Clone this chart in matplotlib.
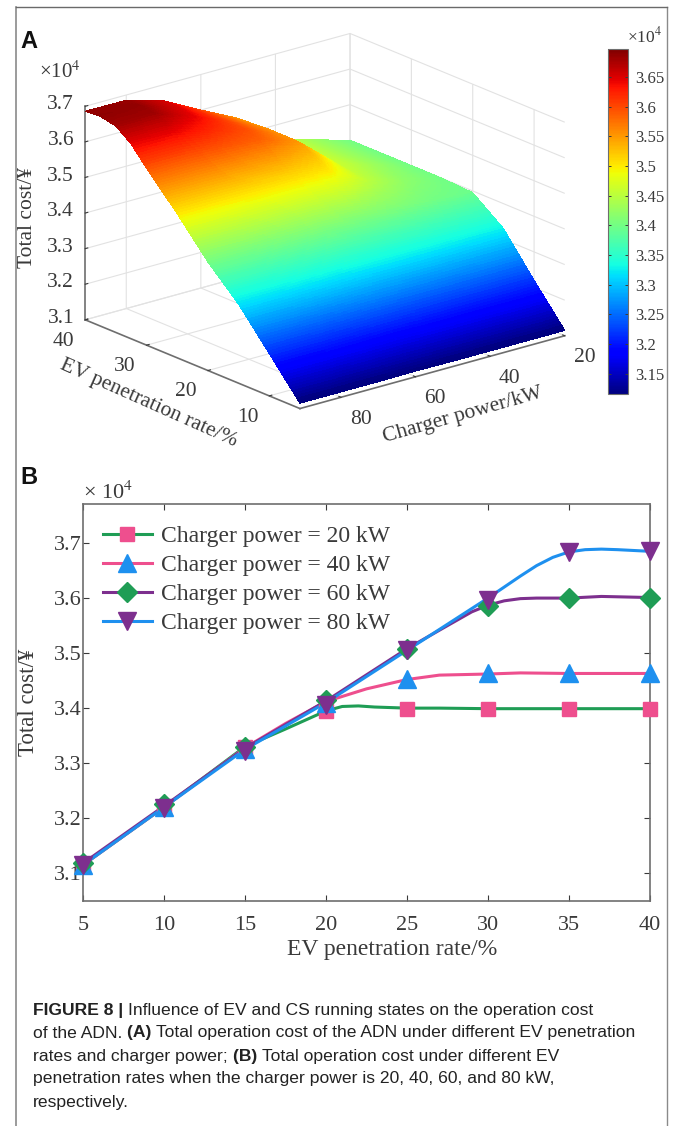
import numpy as np
import matplotlib
matplotlib.use('Agg')
import matplotlib.pyplot as plt
from matplotlib.colors import Normalize
from matplotlib.lines import Line2D
from mpl_toolkits.mplot3d import proj3d

plt.rcParams['font.family'] = ['Liberation Serif', 'DejaVu Sans']
plt.rcParams['mathtext.fontset'] = 'stix'

W, H = 675, 1126
TXT = '#3a3a3a'
AXC = '#6e6e6e'

# panel A, surface
ev_rate = [5, 10, 15, 20, 25, 30, 32.5, 35, 37.5, 40]
charger = [20, 30, 40, 50, 60, 70, 80, 91]
cost_5 = [3.115, 3.115, 3.115, 3.115, 3.116, 3.115, 3.115, 3.115]
cost_10 = [3.220, 3.220, 3.220, 3.220, 3.222, 3.220, 3.219, 3.219]
cost_15 = [3.330, 3.330, 3.328, 3.328, 3.328, 3.325, 3.322, 3.322]
cost_20 = [3.395, 3.400, 3.410, 3.412, 3.415, 3.410, 3.405, 3.405]
cost_25 = [3.400, 3.420, 3.452, 3.500, 3.505, 3.505, 3.505, 3.505]
cost_30 = [3.400, 3.430, 3.463, 3.552, 3.585, 3.592, 3.597, 3.597]
cost_32 = [3.400, 3.430, 3.463, 3.553, 3.597, 3.622, 3.645, 3.647]
cost_35 = [3.400, 3.430, 3.463, 3.553, 3.600, 3.645, 3.680, 3.680]
cost_37 = [3.400, 3.430, 3.463, 3.550, 3.600, 3.652, 3.686, 3.689]
cost_40 = [3.400, 3.430, 3.463, 3.548, 3.600, 3.655, 3.685, 3.686]
z_ticks = [3.1, 3.2, 3.3, 3.4, 3.5, 3.6, 3.7]
cbar_ticks = [3.15, 3.2, 3.25, 3.3, 3.35, 3.4, 3.45, 3.5, 3.55, 3.6, 3.65]

# panel B, values at the markers
rate_marks = [5, 10, 15, 20, 25, 30, 35, 40]
marks_20 = [3.113, 3.220, 3.330, 3.395, 3.399, 3.399, 3.399, 3.399]
marks_40 = [3.115, 3.220, 3.325, 3.410, 3.453, 3.463, 3.463, 3.463]
marks_60 = [3.118, 3.225, 3.330, 3.415, 3.508, 3.585, 3.600, 3.600]
marks_80 = [3.115, 3.218, 3.322, 3.405, 3.505, 3.597, 3.683, 3.685]

# panel B, the curves between the markers
curve_x_20 = [5, 10, 15, 17.5, 20, 21, 22, 23, 25, 27, 30, 35, 40]
curve_y_20 = [3.115, 3.22, 3.33, 3.362, 3.395, 3.403, 3.404, 3.402, 3.40, 3.40, 3.399, 3.399, 3.399]
curve_x_40 = [5, 10, 15, 17.5, 20, 22.5, 25, 27, 30, 32, 35, 40]
curve_y_40 = [3.115, 3.22, 3.328, 3.372, 3.412, 3.435, 3.452, 3.46, 3.462, 3.464, 3.463, 3.463]
curve_x_60 = [5, 10, 15, 20, 25, 27.5, 29, 30, 31, 32, 33, 35, 37, 40]
curve_y_60 = [3.118, 3.222, 3.327, 3.413, 3.508, 3.55, 3.575, 3.587, 3.595, 3.599, 3.60, 3.60, 3.603, 3.601]
curve_x_80 = [5, 10, 15, 20, 25, 30, 31, 32, 33, 34, 35, 36, 37, 38, 40]
curve_y_80 = [3.115, 3.22, 3.325, 3.41, 3.505, 3.60, 3.62, 3.64, 3.659, 3.674, 3.684, 3.688, 3.689, 3.688, 3.685]
legend_labels = ['Charger power = 20 kW', 'Charger power = 40 kW',
                 'Charger power = 60 kW', 'Charger power = 80 kW']


def px_box(left, top, right, bottom):
    # pixel box (from the top left) to figure fractions
    return [left / W, 1 - bottom / H, (right - left) / W, (bottom - top) / H]


def ftext(x, y, s, **kw):
    kw.setdefault('color', TXT)
    kw.setdefault('ha', 'center')
    kw.setdefault('va', 'center')
    return fig.text(x / W, 1 - y / H, s, **kw)


fig = plt.figure(figsize=(W / 100, H / 100), dpi=100)

# frame round the figure
fig.add_artist(Line2D([16 / W, 16 / W], [0, 1 - 7 / H], color='#8a8a8a', lw=1.2))
fig.add_artist(Line2D([667 / W, 667 / W], [0, 1 - 7 / H], color='#8a8a8a', lw=1.0))
fig.add_artist(Line2D([16 / W, 667 / W], [1 - 7 / H, 1 - 7 / H], color='#6a6a6a', lw=1.0))

# ---- panel A ----
ax = fig.add_axes(px_box(59.5, -30.5, 576.5, 486.5), projection='3d', proj_type='ortho')
ax.patch.set_alpha(0)
ax.view_init(elev=19.7, azim=140.8)
ax.set_box_aspect((340, 342, 227))

cost = np.array([cost_5, cost_10, cost_15, cost_20, cost_25, cost_30, cost_32, cost_35, cost_37, cost_40])
# finer mesh only so the colour runs smoothly over each read-off cell
e_fine = np.linspace(5, 40, 141)
p_fine = np.linspace(20, 91, 143)
z_tmp = np.array([np.interp(e_fine, ev_rate, cost[:, j]) for j in range(len(charger))]).T
z_fine = np.array([np.interp(p_fine, charger, row) for row in z_tmp])
P, E = np.meshgrid(p_fine, e_fine)
norm = Normalize(3.116, 3.697)
ax.plot_surface(E, P, z_fine, facecolors=plt.cm.jet(norm(z_fine)), rstride=1, cstride=1,
                shade=False, antialiased=False, linewidth=0)

ax.set_xlim(5, 40)
ax.set_ylim(20, 91)
ax.set_zlim(3.1, 3.7)
ax.set_xticks([10, 20, 30, 40])
ax.set_yticks([20, 40, 60, 80])
ax.set_zticks(z_ticks)
ax.set_zticklabels([])
ax.tick_params(axis='both', labelsize=15.5, colors=TXT, pad=0)
ax.zaxis.set_ticks_position('upper')
for lab in ax.get_xticklabels():
    lab.set_ha('right')
for lab in ax.get_yticklabels():
    lab.set_ha('left')
for axis in (ax.xaxis, ax.yaxis, ax.zaxis):
    axis.set_pane_color((1, 1, 1, 0))
    axis.pane.set_edgecolor('#e4e4e4')
    axis.line.set_color(AXC)
    axis.line.set_linewidth(1.2)
    axis._axinfo['grid'].update(color='#e2e2e2', linewidth=0.8)
    axis._axinfo['tick'].update(inward_factor=0.0, outward_factor=0.12)

# mplot3d puts the z labels too high or too low, so they go beside the ticks by hand
proj = ax.get_proj()
for z in z_ticks:
    xp, yp, _ = proj3d.proj_transform(40, 91, z, proj)
    ax.annotate('%g' % z, xy=(xp, yp), xytext=(-8, 1), textcoords='offset points', ha='right',
                va='center', fontsize=15.5, color=TXT, annotation_clip=False)

ftext(60, 72, '×10$^4$', fontsize=15)
ftext(28, 218, 'Total cost/¥', fontsize=15.5, rotation=90)
ftext(149, 403, 'EV penetration rate/%', fontsize=15.5, rotation=-24, rotation_mode='anchor')
ftext(463, 415, 'Charger power/kW', fontsize=15.5, rotation=15.8, rotation_mode='anchor')

# colour bar
cax = fig.add_axes(px_box(608, 49, 628, 394))
cb = fig.colorbar(plt.cm.ScalarMappable(norm=norm, cmap='jet'), cax=cax)
cb.set_ticks(cbar_ticks)
cb.set_ticklabels(['%g' % t for t in cbar_ticks])
cax.tick_params(labelsize=12, colors=TXT, direction='in', length=2, pad=5, width=0.7, left=True)
cb.outline.set_edgecolor(AXC)
ftext(645, 36, '×10$^4$', fontsize=12.5)

# ---- panel B ----
ab = fig.add_axes(px_box(83, 504, 650, 900.7))
c_green, c_pink, c_blue, c_purple = '#1f9d55', '#ee4f8e', '#1e90ef', '#7d2f8e'
styles = [(c_green, c_pink, 's', 10), (c_pink, c_blue, '^', 13),
          (c_purple, c_green, 'D', 10.5), (c_blue, c_purple, 'v', 13)]
curves = [(curve_x_20, curve_y_20), (curve_x_40, curve_y_40),
          (curve_x_60, curve_y_60), (curve_x_80, curve_y_80)]
marks = [marks_20, marks_40, marks_60, marks_80]
handles = []
for i in range(4):
    lc, mc, m, ms = styles[i]
    ab.plot(curves[i][0], curves[i][1], color=lc, lw=2.2, zorder=2 + i * 0.1, clip_on=False)
    ab.plot(rate_marks, marks[i], ls='none', marker=m, ms=ms, mfc=mc, mec=mc, zorder=3 + i * 0.1,
            clip_on=False)
    handles.append(Line2D([], [], color=lc, lw=2.2, marker=m, ms=ms, mfc=mc, mec=mc))

ab.set_xlim(5, 40)
ab.set_ylim(3.05, 3.771)
ab.set_xticks(rate_marks)
ab.set_yticks(z_ticks)
ab.tick_params(direction='in', top=True, right=True, labelsize=16, colors=TXT, length=4)
ab.tick_params(axis='x', pad=11)
ab.tick_params(axis='y', pad=1)
for s in ab.spines.values():
    s.set_color(AXC)
    s.set_linewidth(1.2)
ab.legend(handles, legend_labels, frameon=False, fontsize=17, labelcolor=TXT,
          loc='upper left', bbox_to_anchor=(0.035, 0.945), borderaxespad=0, borderpad=0,
          handlelength=2.07, handletextpad=0.38, labelspacing=0.31)
ftext(108, 493, '× 10$^4$', fontsize=16)
ftext(29, 702, 'Total cost/¥', fontsize=16.5, rotation=90)
ftext(392, 949, 'EV penetration rate/%', fontsize=17)

# panel letters
ftext(29, 41, 'A', fontsize=17, fontweight='bold', family='Liberation Sans', color='#111111')
ftext(29, 478, 'B', fontsize=17, fontweight='bold', family='Liberation Sans', color='#111111')

# caption, bold and regular runs placed one after the other
caption = [
    (1010, [('FIGURE 8 | ', True), ('Influence of EV and CS running states on the operation cost', False)]),
    (1033, [('of the ADN. ', False), ('(A) ', True),
            ('Total operation cost of the ADN under different EV penetration', False)]),
    (1056, [('rates and charger power; ', False), ('(B) ', True),
            ('Total operation cost under different EV', False)]),
    (1079, [('penetration rates when the charger power is 20, 40, 60, and 80 kW,', False)]),
    (1103, [('respectively.', False)]),
]
CAP = 12.6
fig.canvas.draw()
rend = fig.canvas.get_renderer()
for y, runs in caption:
    x = 33
    for s, bold in runs:
        weight = 'bold' if bold else 'normal'
        ftext(x, y, s, ha='left', fontsize=CAP, family='Liberation Sans', color='#222222', fontweight=weight)
        # trailing spaces are not measured reliably, so measure with a marker
        probe = ftext(x, y, s + '.', ha='left', fontsize=CAP, family='Liberation Sans', fontweight=weight)
        dot = ftext(x, y, '.', ha='left', fontsize=CAP, family='Liberation Sans', fontweight=weight)
        x += probe.get_window_extent(rend).width - dot.get_window_extent(rend).width
        probe.remove()
        dot.remove()

fig.savefig('out.png', dpi=100)
